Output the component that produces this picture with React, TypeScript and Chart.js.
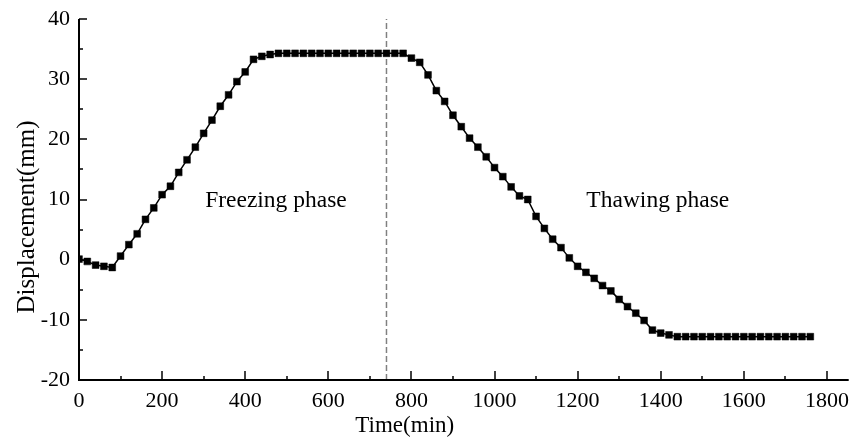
import React, { useEffect, useRef } from "react";
import { Chart, registerables } from "chart.js";

Chart.register(...registerables);

const times = [
  0, 20, 40, 60, 80, 100, 120, 140, 160, 180, 200, 220, 240, 260, 280, 300, 320, 340, 360, 380,
  400, 420, 440, 460, 480, 500, 520, 540, 560, 580, 600, 620, 640, 660, 680, 700, 720, 740, 760, 780,
  800, 820, 840, 860, 880, 900, 920, 940, 960, 980, 1000, 1020, 1040, 1060, 1080, 1100, 1120, 1140, 1160, 1180,
  1200, 1220, 1240, 1260, 1280, 1300, 1320, 1340, 1360, 1380, 1400, 1420, 1440, 1460, 1480, 1500, 1520, 1540, 1560, 1580,
  1600, 1620, 1640, 1660, 1680, 1700, 1720, 1740, 1760,
];

const displacement = [
  0.1, -0.3, -0.9, -1.1, -1.3, 0.6, 2.5, 4.3, 6.7, 8.6, 10.8, 12.2, 14.5, 16.6, 18.7, 21.0, 23.2, 25.5, 27.4, 29.6,
  31.2, 33.3, 33.8, 34.1, 34.3, 34.3, 34.3, 34.3, 34.3, 34.3, 34.3, 34.3, 34.3, 34.3, 34.3, 34.3, 34.3, 34.3, 34.3, 34.3,
  33.5, 32.8, 30.7, 28.1, 26.3, 24.0, 22.1, 20.2, 18.7, 17.1, 15.3, 13.8, 12.1, 10.6, 10.0, 7.2, 5.2, 3.4, 2.0, 0.3,
  -1.1, -2.1, -3.1, -4.3, -5.2, -6.6, -7.8, -8.9, -10.1, -11.7, -12.2, -12.5, -12.8, -12.8, -12.8, -12.8, -12.8, -12.8, -12.8, -12.8,
  -12.8, -12.8, -12.8, -12.8, -12.8, -12.8, -12.8, -12.8, -12.8,
];

const phaseBoundary = 740;
const xTickValues = [0, 200, 400, 600, 800, 1000, 1200, 1400, 1600, 1800];
const annotations = [
  { text: "Freezing phase", x: 474, y: 9.8 },
  { text: "Thawing phase", x: 1393, y: 9.8 },
];
const xTitle = "Time(min)";
const yTitle = "Displacement(mm)";

const FONT = "'Liberation Serif', 'Times New Roman', serif";

const axesPlugin = {
  id: "axesPlugin",
  afterDraw(chart: any) {
    const { ctx, chartArea, scales } = chart;
    const xs = scales.x;
    const ys = scales.y;
    ctx.save();
    ctx.strokeStyle = "#000";
    ctx.lineWidth = 2;
    ctx.beginPath();
    ctx.moveTo(chartArea.left, chartArea.top);
    ctx.lineTo(chartArea.left, chartArea.bottom);
    ctx.lineTo(chartArea.right + 1, chartArea.bottom);
    ctx.stroke();
    ctx.lineWidth = 1.5;
    for (let v = 100; v <= 1800; v += 100) {
      const px = Math.round(xs.getPixelForValue(v));
      const len = v % 200 === 0 ? 9 : 4;
      ctx.beginPath();
      ctx.moveTo(px, chartArea.bottom);
      ctx.lineTo(px, chartArea.bottom - len);
      ctx.stroke();
    }
    for (let v = -15; v <= 40; v += 5) {
      const py = Math.round(ys.getPixelForValue(v));
      const len = v % 10 === 0 ? 8 : 4;
      ctx.beginPath();
      ctx.moveTo(chartArea.left, py);
      ctx.lineTo(chartArea.left + len, py);
      ctx.stroke();
    }
    ctx.fillStyle = "#000";
    ctx.font = `23.5px ${FONT}`;
    ctx.textAlign = "center";
    ctx.textBaseline = "middle";
    for (const a of annotations) {
      ctx.fillText(a.text, xs.getPixelForValue(a.x), ys.getPixelForValue(a.y));
    }
    // axis titles
    ctx.font = `23px ${FONT}`;
    ctx.textBaseline = "alphabetic";
    ctx.fillText(xTitle, xs.getPixelForValue(784), 431.5);
    ctx.translate(34, ys.getPixelForValue(7.1));
    ctx.rotate(-Math.PI / 2);
    ctx.font = `25px ${FONT}`;
    ctx.fillText(yTitle, 0, 0);
    ctx.restore();
  },
};

export default function App() {
  const ref = useRef<HTMLCanvasElement>(null);
  useEffect(() => {
    document.body.style.margin = "0";
    const canvas = ref.current!;
    const chart = new Chart(canvas, {
      type: "line",
      data: {
        datasets: [
          {
            data: times.map((t, i) => ({ x: t, y: displacement[i] })),
            borderColor: "#000",
            backgroundColor: "#000",
            borderWidth: 1.5,
            pointStyle: "rect",
            pointRadius: 4.8,
            pointBorderWidth: 0.5,
            tension: 0,
          },
          {
            data: [
              { x: phaseBoundary, y: -20 },
              { x: phaseBoundary, y: 40 },
            ],
            borderColor: "#808080",
            borderWidth: 1.5,
            borderDash: [6, 3],
            pointRadius: 0,
          },
        ],
      },
      options: {
        responsive: false,
        animation: false,
        layout: { padding: { top: 19, right: 4, left: 0, bottom: 0 } },
        plugins: { legend: { display: false }, tooltip: { enabled: false } },
        scales: {
          x: {
            type: "linear",
            min: 0,
            max: 1850,
            grid: { display: false, drawTicks: false },
            border: { display: false },
            afterBuildTicks: (s: any) => {
              s.ticks = xTickValues.map((v) => ({ value: v }));
            },
            afterFit: (s: any) => {
              s.height = 59;
              s.paddingLeft = 0;
              s.paddingRight = 0;
            },
            ticks: {
              padding: 8,
              color: "#000",
              font: { family: FONT, size: 22 },
              maxRotation: 0,
              callback: (v: any) => String(v),
            },
          },
          y: {
            type: "linear",
            min: -20,
            max: 40,
            grid: { display: false, drawTicks: false },
            border: { display: false },
            afterFit: (s: any) => {
              s.width = 79;
              s.paddingTop = 0;
              s.paddingBottom = 0;
            },
            ticks: {
              stepSize: 10,
              padding: 9,
              color: "#000",
              font: { family: FONT, size: 22 },
              callback: (v: any) => String(v),
            },
          },
        },
      },
      plugins: [axesPlugin],
    });
    return () => chart.destroy();
  }, []);
  return <canvas ref={ref} width={853} height={439} />;
}
